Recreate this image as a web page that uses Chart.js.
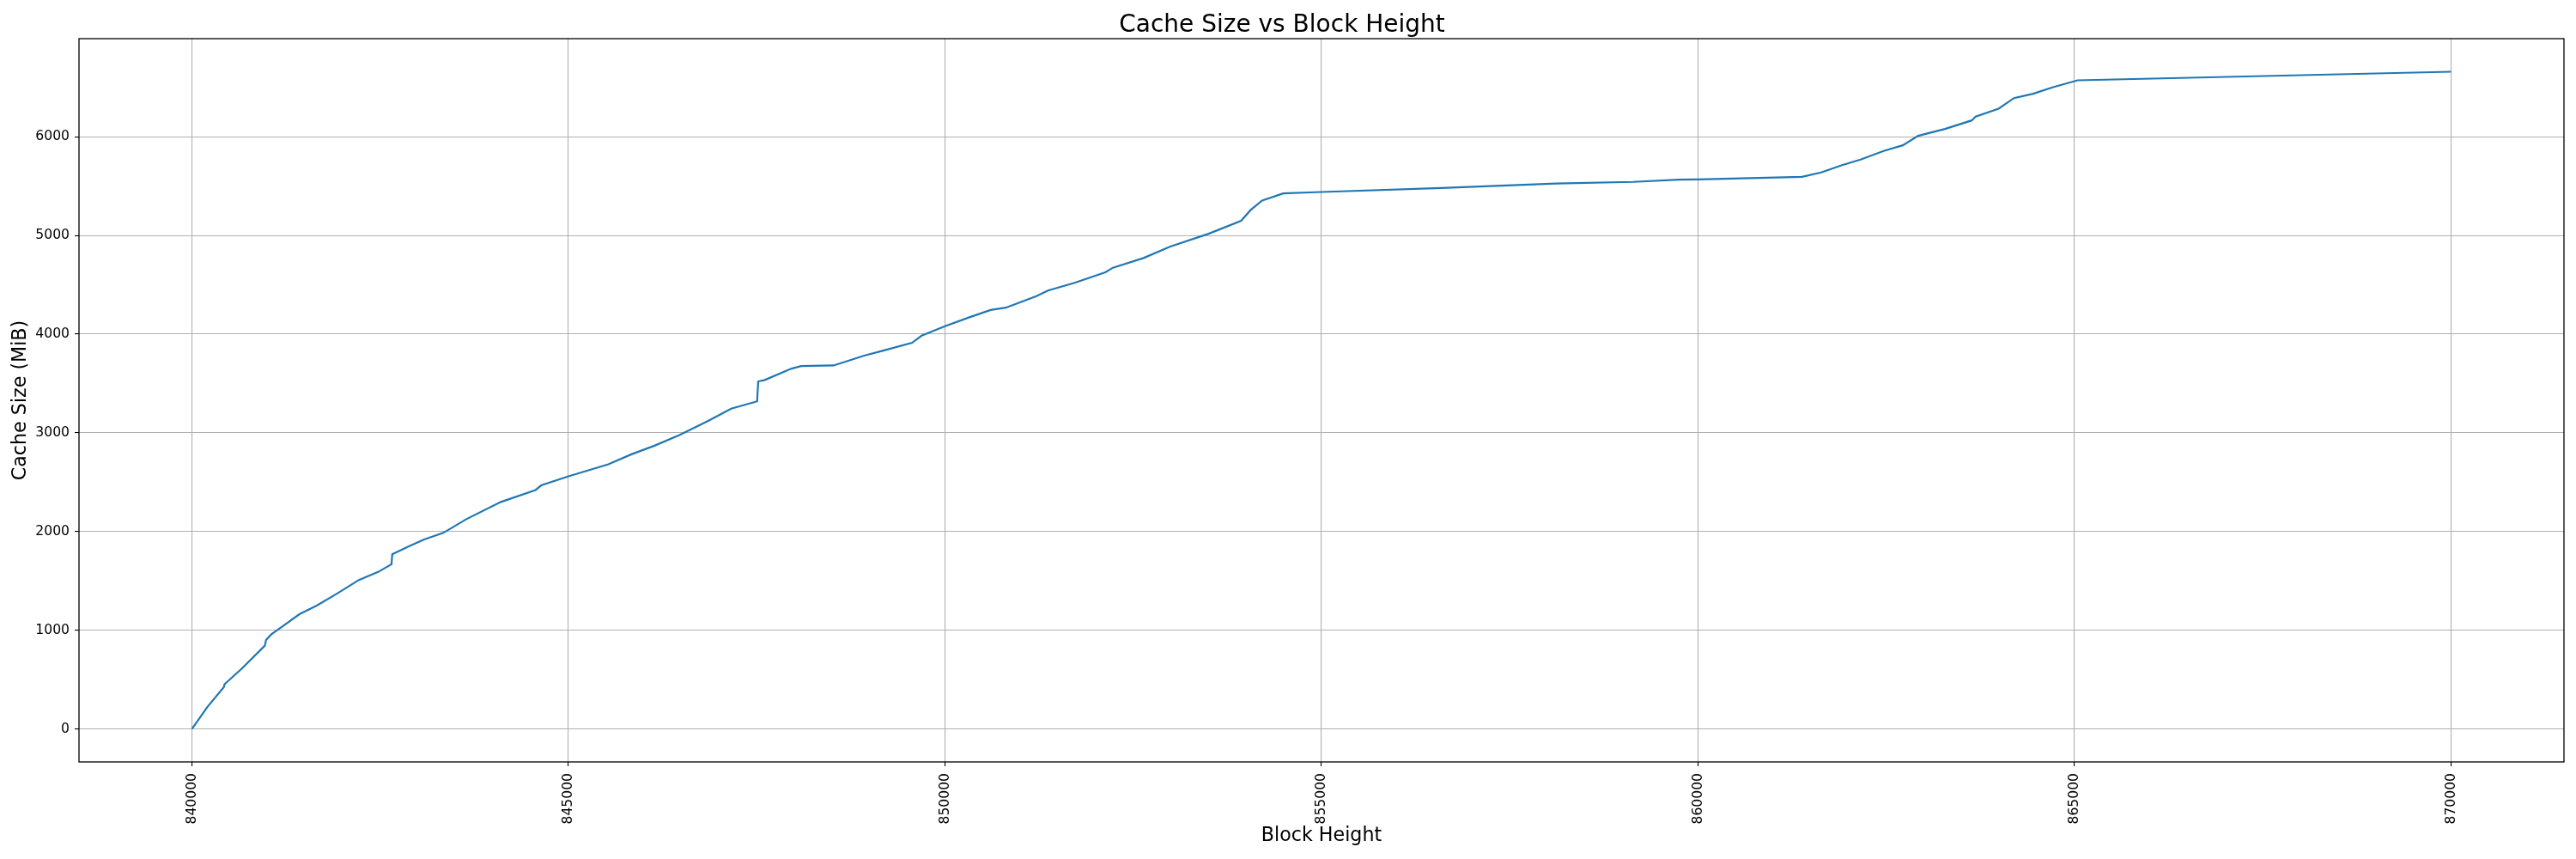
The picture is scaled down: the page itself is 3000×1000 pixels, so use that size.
<!DOCTYPE html>
<html>
<head>
<meta charset="utf-8">
<title>Cache Size vs Block Height</title>
<script src="https://cdn.jsdelivr.net/npm/chart.js@4.4.1/dist/chart.umd.min.js"></script>
<style>
    body { margin: 0; background: #fff; }
    #wrap { width: 3000px; height: 1000px; }
</style>
</head>
<body>
<div id="wrap"><canvas id="cacheChart" width="3000" height="1000"></canvas></div>
<script>
// block heights and cache size (MiB)
const blocks = [
    840000, 840204, 840423, 840433, 840663, 840968, 840984, 841055, 841172, 841427,
    841657, 841911, 842217, 842472, 842650, 842660, 842880, 843084, 843338, 843644,
    844103, 844562, 844638, 845000, 845530, 845836, 846142, 846473, 846855, 847161,
    847505, 847520, 847607, 847963, 848090, 848521, 848928, 849182, 849563, 849690,
    850000, 850300, 850605, 850808, 851214, 851367, 851722, 852129, 852230, 852637,
    852993, 853501, 853933, 854060, 854212, 854492, 855000, 856590, 858119, 859138,
    859750, 860000, 861381, 861636, 861905, 862159, 862465, 862720, 862924, 863280,
    863636, 863687, 863993, 864196, 864451, 864706, 865041, 870000
];
const cacheMiB = [
    0, 223, 425, 454, 613, 845, 903, 960, 1024, 1163,
    1250, 1365, 1510, 1591, 1669, 1770, 1851, 1921, 1987, 2126,
    2300, 2421, 2468, 2560, 2682, 2783, 2870, 2977, 3122, 3246,
    3319, 3521, 3536, 3651, 3677, 3683, 3782, 3834, 3912, 3984,
    4080, 4164, 4245, 4268, 4384, 4441, 4520, 4627, 4673, 4771,
    4887, 5017, 5148, 5258, 5353, 5425, 5440, 5481, 5525, 5542,
    5565, 5568, 5594, 5638, 5710, 5768, 5855, 5913, 6009, 6078,
    6165, 6203, 6284, 6391, 6435, 6499, 6571, 6658
];
const xTicks = [840000, 845000, 850000, 855000, 860000, 865000, 870000];
const yTicks = [0, 1000, 2000, 3000, 4000, 5000, 6000];

const FONT = "'DejaVu Sans', sans-serif";

// matplotlib style closed frame round the plot
const frameBox = {
    id: 'frameBox',
    afterDraw(chart) {
        const { ctx, chartArea: a } = chart;
        ctx.save();
        ctx.strokeStyle = '#000';
        ctx.lineWidth = 1.3;
        ctx.strokeRect(a.left, a.top, a.right - a.left, a.bottom - a.top);
        ctx.restore();
    }
};

document.addEventListener('DOMContentLoaded', function () {
    const ctx = document.getElementById('cacheChart');
    const points = blocks.map(function (b, i) { return { x: b, y: cacheMiB[i] }; });

    new Chart(ctx, {
        type: 'line',
        data: {
            datasets: [{
                data: points,
                borderColor: '#1f77b4',
                borderWidth: 2.2,
                pointRadius: 0,
                tension: 0,
                fill: false
            }]
        },
        options: {
            responsive: false,
            animation: false,
            layout: { padding: { left: 0, right: 14, top: 0, bottom: 0 } },
            plugins: {
                legend: { display: false },
                tooltip: { enabled: false },
                title: {
                    display: true,
                    text: 'Cache Size vs Block Height',
                    color: '#000',
                    font: { family: FONT, size: 28, weight: 'normal', lineHeight: 1.1 },
                    padding: { top: 14.2, bottom: 0 }
                }
            },
            scales: {
                x: {
                    type: 'linear',
                    min: 838500,
                    max: 871500,
                    afterBuildTicks: function (s) { s.ticks = xTicks.map(function (v) { return { value: v }; }); },
                    afterFit: function (s) { s.height = 113; },
                    border: { display: false },
                    grid: { color: '#b0b0b0', lineWidth: 1.1, tickColor: '#000', tickLength: 5, tickWidth: 1.1 },
                    ticks: {
                        color: '#000',
                        font: { family: FONT, size: 15.6 },
                        minRotation: 90,
                        maxRotation: 90,
                        padding: 8,
                        callback: function (v) { return String(v); }
                    },
                    title: {
                        display: true,
                        text: 'Block Height',
                        color: '#000',
                        font: { family: FONT, size: 22.2 },
                        padding: { top: 0, bottom: 13.7 }
                    }
                },
                y: {
                    type: 'linear',
                    min: -333,
                    max: 6993,
                    afterBuildTicks: function (s) { s.ticks = yTicks.map(function (v) { return { value: v }; }); },
                    afterFit: function (s) { s.width = 92; },
                    border: { display: false },
                    grid: { color: '#b0b0b0', lineWidth: 1.1, tickColor: '#000', tickLength: 5, tickWidth: 1.1 },
                    ticks: {
                        color: '#000',
                        font: { family: FONT, size: 15.6 },
                        padding: 6,
                        callback: function (v) { return String(v); }
                    },
                    title: {
                        display: true,
                        text: 'Cache Size (MiB)',
                        color: '#000',
                        font: { family: FONT, size: 22.2 },
                        padding: { top: 10.7, bottom: 0 }
                    }
                }
            }
        },
        plugins: [frameBox]
    });
});
</script>
</body>
</html>
